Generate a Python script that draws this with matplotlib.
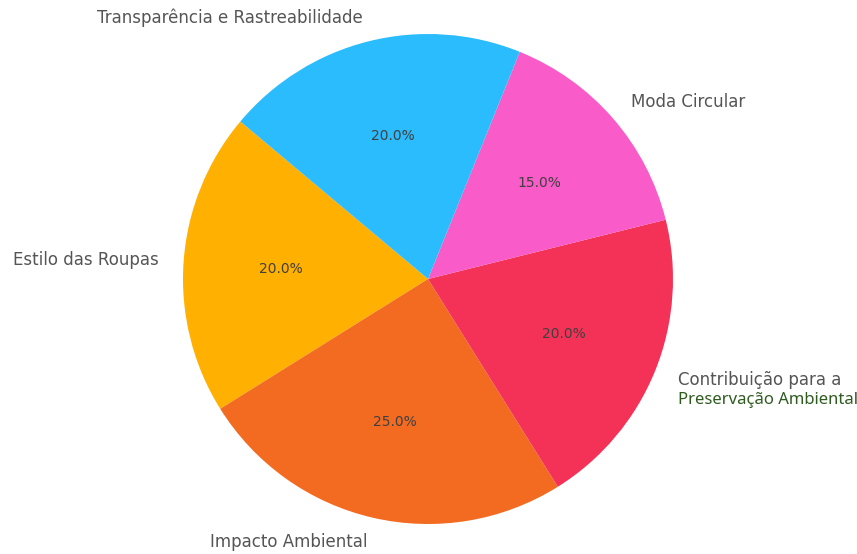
import matplotlib.pyplot as plt

labels = ['Estilo das Roupas', 'Impacto Ambiental', 'Contribuição para a',
          'Moda Circular', 'Transparência e Rastreabilidade']
sizes = [20, 25, 20, 15, 20]
colors = ['#FFB000', '#F26B21', '#F43257', '#F95BC8', '#2BBCFE']
extra_line = 'Preservação Ambiental'

fig = plt.figure(figsize=(8.57, 5.54), dpi=100)
# pie centred at (428, 279) px with a 245 px radius
ax = fig.add_axes([(428 - 245) / 857, (554 - 279 - 245) / 554, 490 / 857, 490 / 554])

wedges, texts, autotexts = ax.pie(sizes, labels=labels, colors=colors,
                                  autopct='%1.1f%%', startangle=140,
                                  textprops={'fontsize': 12, 'color': '#555555'})
for t in autotexts:
    t.set_fontsize(10)
    t.set_color('#404040')

ax.set_xlim(-1, 1)
ax.set_ylim(-1, 1)
ax.set_aspect('auto')

# second line of the "Contribuição" label, drawn in green
x, y = texts[2].get_position()
ax.text(x, y - 0.08, extra_line, fontsize=12, color='#2E5B1E',
        family='Noto Sans', ha='left', va='center')

fig.savefig('out.png', dpi=100)
